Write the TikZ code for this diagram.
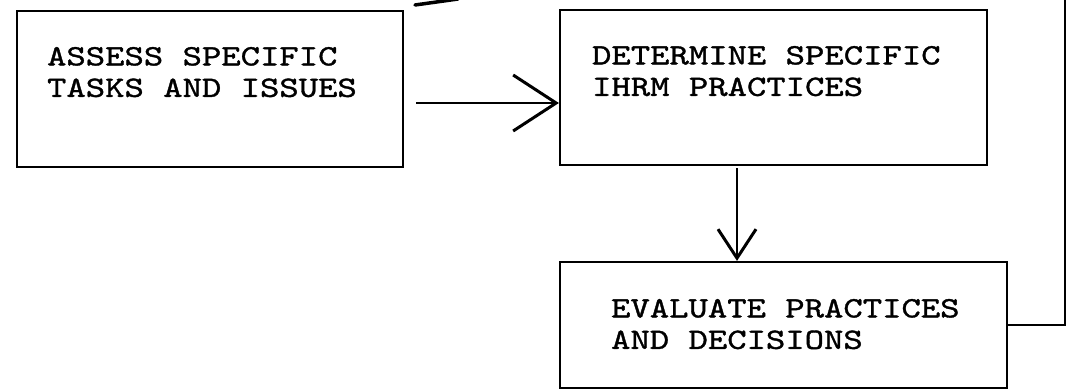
\documentclass[tikz,border=0pt]{standalone}
\usepackage{fontspec}
\usetikzlibrary{arrows.meta, positioning}
\newfontfamily\boxfont{lmmono10-regular.otf}[FakeStretch=1.25, FakeBold=1.2]

\begin{document}
\begin{tikzpicture}[x=1pt, y=-1pt,
        box/.style={draw, line width=2.2pt, inner sep=0pt},
        boxtext/.style={anchor=base west, align=left, inner sep=0pt,
            font=\boxfont\fontsize{29.5}{31.5}\selectfont},
        flow/.style={line width=2pt},
        longbarb/.style={-{Straight Barb[length=43pt, width=56pt, line width=3pt]}},
        shortbarb/.style={-{Straight Barb[length=29pt, width=38pt, line width=3pt]}}]
    \useasboundingbox (0,0) rectangle (1069,390);
    % boxes
    \node[box, minimum width=386pt, minimum height=156pt] (assess) at (210,89) {};
    \node[box, minimum width=427pt, minimum height=155pt] (determine) at (773.5,87.5) {};
    \node[box, minimum width=447pt, minimum height=126pt] (evaluate) at (783.5,325) {};
    % base of the last line sits at the given point
    \node[boxtext] (assesstext) at ([shift={(31,87)}]assess.north west)
        {ASSESS SPECIFIC\\TASKS AND ISSUES};
    \node[boxtext] (determinetext) at ([shift={(33,87)}]determine.north west)
        {DETERMINE SPECIFIC\\IHRM PRACTICES};
    \node[boxtext] (evaluatetext) at ([shift={(52,88)}]evaluate.north west)
        {EVALUATE PRACTICES\\AND DECISIONS};
    % arrows
    \draw[flow, longbarb] ([shift={(12,14)}]assess.east) -- ([shift={(0,14)}]assess.east -| determine.west);
    \draw[flow, shortbarb] ([shift={(-36.5,2)}]determine.south) -- ([xshift=-46.5]evaluate.north);
    % loop back to the top
    \coordinate (looptop) at (1065,0);
    \draw[flow] (evaluate.east) -| (looptop);
    \coordinate (tipa) at (415,5);
    \coordinate (tipb) at (458,-1);
    \draw[line width=3.5pt, line cap=round] (tipa) -- (tipb);
\end{tikzpicture}
\end{document}
